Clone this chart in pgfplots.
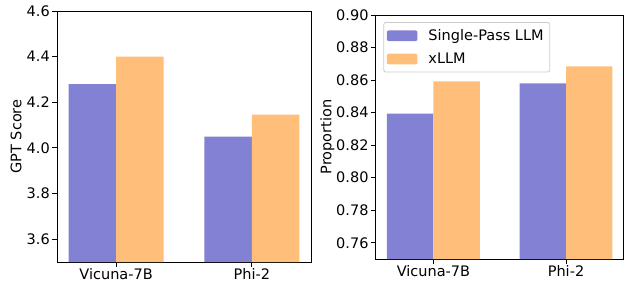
\documentclass[border=0pt]{standalone}
\usepackage{fontspec}
\setmainfont{DejaVu Sans}
\usepackage{pgfplots}
\pgfplotsset{compat=1.18}
\definecolor{cpurple}{RGB}{131,129,211}
\definecolor{corange}{RGB}{255,190,122}
\pgfplotsset{
  myaxis/.style={
    scale only axis,
    font=\fontsize{14.5}{17}\selectfont,
    /pgf/number format/assume math mode=true,
    ybar, bar width=0.35,
    xmin=-0.435, xmax=1.435,
    xtick={0,1}, xticklabels={Vicuna-7B,Phi-2},
    xtick pos=bottom, ytick pos=left,
    tick align=outside,
    major tick length=5pt,
    tick style={line width=0.9pt, black},
    axis line style={line width=0.9pt},
    xticklabel style={inner sep=1pt},
    yticklabel style={inner sep=2pt},
    /pgf/number format/fixed,
    /pgf/number format/fixed zerofill,
    legend image code/.code={\fill[##1] (0pt,-5.3pt) rectangle (30.7pt,5.3pt);},
  }
}
\begin{document}
\begin{tikzpicture}
\begin{axis}[myaxis,
  at={(0pt,0pt)}, anchor=south west,
  width=254pt, height=251pt,
  ymin=3.5, ymax=4.6,
  ytick={3.6,3.8,4.0,4.2,4.4,4.6},
  /pgf/number format/precision=1,
  ylabel={GPT Score},
  ylabel style={at={(axis description cs:-0.161,0.5)}, anchor=center},
]
\addplot[fill=cpurple, draw=none, bar shift=-0.175] coordinates {(0,4.28) (1,4.05)};
\addplot[fill=corange, draw=none, bar shift=0.175] coordinates {(0,4.40) (1,4.146)};
\end{axis}
\begin{axis}[myaxis,
  at={(318.7pt,3pt)}, anchor=south west,
  width=248pt, height=244pt,
  ymin=0.75, ymax=0.90,
  ytick={0.76,0.78,0.80,0.82,0.84,0.86,0.88,0.90},
  /pgf/number format/precision=2,
  ylabel={Proportion},
  ylabel style={at={(axis description cs:-0.195,0.5)}, anchor=center},
  legend style={at={(axis description cs:0.031,0.971)}, anchor=north west,
    draw=black!20, rounded corners=2pt, line width=0.8pt,
    inner xsep=3pt, inner ysep=4pt, row sep=5pt, column sep=8pt,
    nodes={inner sep=3pt, anchor=west},
    legend cell align=left},
]
\addplot[fill=cpurple, draw=none, bar shift=-0.175] coordinates {(0,0.8393) (1,0.858)};
\addplot[fill=corange, draw=none, bar shift=0.175] coordinates {(0,0.8592) (1,0.8684)};
\legend{Single-Pass LLM, xLLM}
\end{axis}
\pgfresetboundingbox
\path[use as bounding box] (-57pt,-20pt) rectangle (572pt,262pt);
\end{tikzpicture}
\end{document}
